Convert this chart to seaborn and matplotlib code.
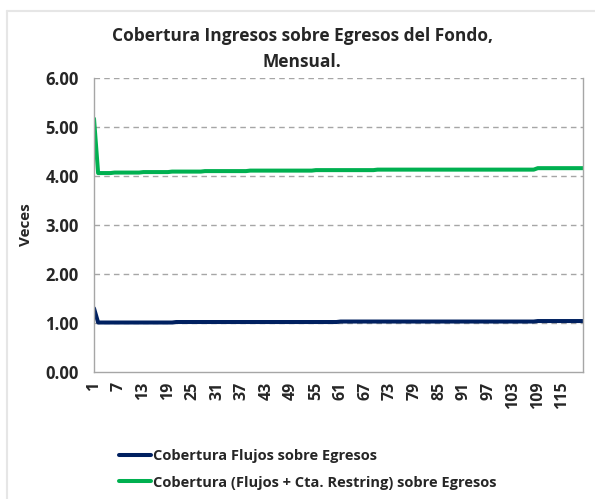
import seaborn as sns
import matplotlib
matplotlib.use('Agg')
import matplotlib.pyplot as plt
import pandas as pd
from matplotlib.lines import Line2D

# monthly coverage ratios, months 1..120
flujos = [1.30, 1.01, 1.01, 1.01, 1.01, 1.01, 1.01, 1.01, 1.01, 1.01,
          1.01, 1.01, 1.01, 1.01, 1.01, 1.01, 1.01, 1.01, 1.01, 1.01,
          1.02, 1.02, 1.02, 1.02, 1.02, 1.02, 1.02, 1.02, 1.02, 1.02,
          1.02, 1.02, 1.02, 1.02, 1.02, 1.02, 1.02, 1.02, 1.02, 1.02,
          1.02, 1.02, 1.02, 1.02, 1.02, 1.02, 1.02, 1.02, 1.02, 1.02,
          1.02, 1.02, 1.02, 1.02, 1.02, 1.02, 1.02, 1.02, 1.02, 1.02,
          1.03, 1.03, 1.03, 1.03, 1.03, 1.03, 1.03, 1.03, 1.03, 1.03,
          1.03, 1.03, 1.03, 1.03, 1.03, 1.03, 1.03, 1.03, 1.03, 1.03,
          1.03, 1.03, 1.03, 1.03, 1.03, 1.03, 1.03, 1.03, 1.03, 1.03,
          1.03, 1.03, 1.03, 1.03, 1.03, 1.03, 1.03, 1.03, 1.03, 1.03,
          1.03, 1.03, 1.03, 1.03, 1.03, 1.03, 1.03, 1.03, 1.04, 1.04,
          1.04, 1.04, 1.04, 1.04, 1.04, 1.04, 1.04, 1.04, 1.04, 1.04]

flujos_cta = [5.17, 4.06, 4.06, 4.06, 4.06, 4.07, 4.07, 4.07, 4.07, 4.07,
              4.07, 4.07, 4.08, 4.08, 4.08, 4.08, 4.08, 4.08, 4.08, 4.09,
              4.09, 4.09, 4.09, 4.09, 4.09, 4.09, 4.09, 4.10, 4.10, 4.10,
              4.10, 4.10, 4.10, 4.10, 4.10, 4.10, 4.10, 4.10, 4.11, 4.11,
              4.11, 4.11, 4.11, 4.11, 4.11, 4.11, 4.11, 4.11, 4.11, 4.11,
              4.11, 4.11, 4.11, 4.11, 4.12, 4.12, 4.12, 4.12, 4.12, 4.12,
              4.12, 4.12, 4.12, 4.12, 4.12, 4.12, 4.12, 4.12, 4.12, 4.13,
              4.13, 4.13, 4.13, 4.13, 4.13, 4.13, 4.13, 4.13, 4.13, 4.13,
              4.13, 4.13, 4.13, 4.13, 4.13, 4.13, 4.13, 4.13, 4.13, 4.13,
              4.13, 4.13, 4.13, 4.13, 4.13, 4.13, 4.13, 4.13, 4.13, 4.13,
              4.13, 4.13, 4.13, 4.13, 4.13, 4.13, 4.13, 4.13, 4.16, 4.16,
              4.16, 4.16, 4.16, 4.16, 4.16, 4.16, 4.16, 4.16, 4.16, 4.16]

meses = list(range(1, len(flujos) + 1))
tick_meses = list(range(1, 116, 6))
y_ticks = [0, 1, 2, 3, 4, 5, 6]

label_1 = 'Cobertura Flujos sobre Egresos'
label_2 = 'Cobertura (Flujos + Cta. Restring) sobre Egresos'

df = pd.DataFrame({'Mes': meses, label_1: flujos, label_2: flujos_cta})

sns.set_style('white')
plt.rcParams['font.family'] = ['Open Sans', 'DejaVu Sans']
plt.rcParams['font.weight'] = 'bold'

fig = plt.figure(figsize=(5.95, 4.99), dpi=100)
ax = fig.add_axes([94 / 595, 1 - 372 / 499, (583 - 94) / 595, (372 - 78) / 499])

navy = '#002060'
green = '#00b050'
sns.lineplot(data=df, x='Mes', y=label_1, color=navy, linewidth=2.9, ax=ax)
sns.lineplot(data=df, x='Mes', y=label_2, color=green, linewidth=2.9, ax=ax)

ax.set_xlim(1, len(meses))
ax.set_ylim(0, 6)
ax.set_yticks(y_ticks)
ax.set_yticklabels(['%.2f' % v for v in y_ticks], fontsize=12, fontweight='bold')
ax.set_xticks(tick_meses)
ax.set_xticklabels([str(m) for m in tick_meses], rotation=90, fontsize=11.5,
                   fontweight='bold')
ax.tick_params(axis='both', length=0, pad=11)
ax.tick_params(axis='x', pad=7)
ax.set_xlabel('')
ax.set_ylabel('Veces', fontsize=11, fontweight='bold', labelpad=9)

for v in y_ticks[1:]:
    ax.axhline(v, color='#a6a6a6', linestyle=(0, (4, 3)), linewidth=1, zorder=0)
for side in ['left', 'right', 'bottom']:
    ax.spines[side].set_color('#a6a6a6')
    ax.spines[side].set_linewidth(1)
ax.spines['top'].set_visible(False)

fig.text(0.508, 1 - 49 / 499, 'Cobertura Ingresos sobre Egresos del Fondo,\nMensual.',
         ha='center', va='center', fontsize=12.5, fontweight='bold',
         linespacing=1.55)

handles = [Line2D([], [], color=navy, linewidth=2.9),
           Line2D([], [], color=green, linewidth=2.9)]
fig.legend(handles, [label_1, label_2], loc='upper left',
           bbox_to_anchor=(106 / 595, 1 - 436 / 499), frameon=False,
           prop={'size': 10.5, 'weight': 'bold'}, handlelength=2.2,
           handletextpad=0.1, labelspacing=0.85)

# outer chart border
fig.add_artist(Line2D([7 / 595, 7 / 595], [0, 1 - 11 / 499], color='#e6e6e6',
                      linewidth=1.5, transform=fig.transFigure))
fig.add_artist(Line2D([7 / 595, 1], [1 - 11 / 499, 1 - 11 / 499], color='#e6e6e6',
                      linewidth=1.5, transform=fig.transFigure))

fig.savefig('out.png', dpi=100, facecolor='white')
